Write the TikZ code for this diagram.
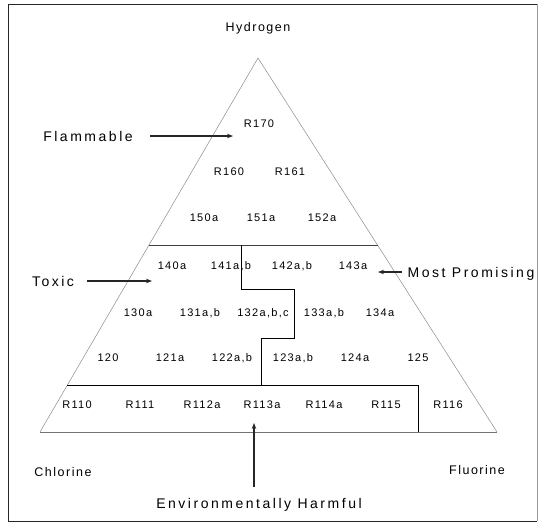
\documentclass[tikz,border=0pt]{standalone}
\usepackage{fontspec}
\setmainfont{Liberation Sans}
\newfontfamily\smallf[LetterSpace=12]{Liberation Sans}
\newfontfamily\bigf[LetterSpace=18]{Liberation Sans}
\usetikzlibrary{arrows.meta,calc}
\begin{document}
\begin{tikzpicture}[x=1pt,y=-1pt,
 lbl/.style={font=\smallf\fontsize{11}{13}\selectfont, inner sep=0pt, anchor=base, yshift=-3.9pt},
 corner/.style={font=\smallf\fontsize{12.5}{14}\selectfont, inner sep=0pt, anchor=base, yshift=-4.4pt},
 big/.style={font=\bigf\fontsize{14}{16}\selectfont, inner sep=0pt, anchor=base, yshift=-5pt},
 edge/.style={draw=black!45, line width=0.5pt},
 divider/.style={draw=black!75, line width=0.8pt},
 wall/.style={draw=black, line width=0.8pt},
 arr/.style={-{Stealth[length=6pt,width=4.5pt]}, line width=1.1pt, draw=black!85, fill=black!85}]
\useasboundingbox (0,0) rectangle (539,523);
% frame
\coordinate (f1) at (8,4);
\coordinate (f2) at (537,4);
\coordinate (f3) at (537,521);
\coordinate (f4) at (8,521);
\draw[black!85, line width=0.9pt] (f2) -- (f1) -- (f4) -- (f3);
\draw[black!40, line width=0.6pt] (f2) -- (f3);
% triangle
\coordinate (apex) at (258,58);
\coordinate (bl) at (40,432);
\coordinate (br) at (497,432);
\draw[edge] (bl) -- (apex) -- (br);
\draw[draw=black!55, line width=0.6pt] (bl) -- (br);
% dividers
\draw[divider] ($(apex)!0.5!(bl)$) -- ($(apex)!0.5!(br)$);
\coordinate (b1) at ($(apex)!0.87433!(bl)$);
\coordinate (b2) at (418,385);
\coordinate (b3) at (418,432);
\draw[wall] (b1 |- b2) -- (b2) -- (b3);
\coordinate (s0) at (241,245);
\coordinate (s1) at (241,289);
\coordinate (s2) at (294,289);
\coordinate (s3) at (294,338);
\coordinate (s4) at (261,338);
\coordinate (s5) at (261,385);
\draw[wall] (s0) -- (s1) -- (s2) -- (s3) -- (s4) -- (s5);
% corner labels
\node[corner] (hyd) at (258,27) {Hydrogen};
\node[corner] (chl) at (63,472) {Chlorine};
\node[corner] (flu) at (477,470) {Fluorine};
% compounds
\node[lbl] (r170) at (259,124) {R170};
\node[lbl] (r160) at (229,172) {R160};
\node[lbl] (r161) at (290,172) {R161};
\node[lbl] (c150) at (204,218) {150a};
\node[lbl] (c151) at (261,218) {151a};
\node[lbl] (c152) at (322,218) {152a};
\node[lbl] (c140) at (172,266) {140a};
\node[lbl] (c141) at (231,266) {141a,b};
\node[lbl] (c142) at (292,266) {142a,b};
\node[lbl] (c143) at (353,266) {143a};
\node[lbl] (c130) at (138,313) {130a};
\node[lbl] (c131) at (200,313) {131a,b};
\node[lbl] (c132) at (263,313) {132a,b,c};
\node[lbl] (c133) at (324,313) {133a,b};
\node[lbl] (c134) at (380,313) {134a};
\node[lbl] (c120) at (108,358) {120};
\node[lbl] (c121) at (170,358) {121a};
\node[lbl] (c122) at (232,358) {122a,b};
\node[lbl] (c123) at (293,358) {123a,b};
\node[lbl] (c124) at (355,358) {124a};
\node[lbl] (c125) at (418,358) {125};
\node[lbl] (r110) at (77,405) {R110};
\node[lbl] (r111) at (140,405) {R111};
\node[lbl] (r112) at (202,405) {R112a};
\node[lbl] (r113) at (262,405) {R113a};
\node[lbl] (r114) at (324,405) {R114a};
\node[lbl] (r115) at (386,405) {R115};
\node[lbl] (r116) at (448,405) {R116};
% category labels
\node[big] (flam) at (88,136) {Flammable};
\node[big] (tox) at (53,281) {Toxic};
\node[big] (most) at (471,272) {Most Promising};
\node[big] (env) at (259,503) {Environmentally Harmful};
% arrows
\coordinate (flamS) at (150,136);
\coordinate (flamT) at (233,136);
\draw[arr] (flamS) -- (flamT);
\coordinate (toxS) at (87,281);
\coordinate (toxT) at (152,281);
\draw[arr] (toxS) -- (toxT);
\coordinate (mostS) at (402,272);
\coordinate (mostT) at (378,272);
\draw[arr] (mostS) -- (mostT);
\coordinate (envS) at (254,487);
\coordinate (envT) at (254,423);
\draw[arr] (envS) -- (envT);
\end{tikzpicture}
\end{document}
